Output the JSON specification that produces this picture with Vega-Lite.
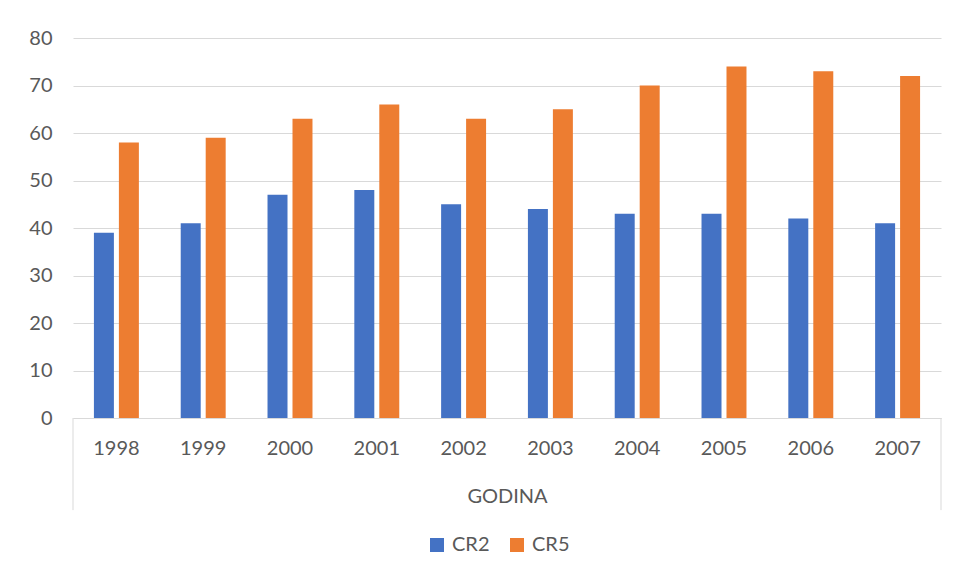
{
  "$schema": "https://vega.github.io/schema/vega-lite/v6.json",
  "autosize": {"type": "none"},
  "width": 868,
  "height": 380,
  "padding": {"left": 73, "top": 38, "right": 17, "bottom": 159},
  "background": "white",
  "config": {
    "font": "Lato",
    "view": {"stroke": null},
    "axis": {"labelColor": "#595959", "titleColor": "#595959", "labelFontSize": 20, "titleFontSize": 20, "titleFontWeight": "normal"}
  },
  "layer": [
    {
      "data": {
        "values": [
          {"year": "1998", "series": "CR2", "value": 39}, {"year": "1998", "series": "CR5", "value": 58},
          {"year": "1999", "series": "CR2", "value": 41}, {"year": "1999", "series": "CR5", "value": 59},
          {"year": "2000", "series": "CR2", "value": 47}, {"year": "2000", "series": "CR5", "value": 63},
          {"year": "2001", "series": "CR2", "value": 48}, {"year": "2001", "series": "CR5", "value": 66},
          {"year": "2002", "series": "CR2", "value": 45}, {"year": "2002", "series": "CR5", "value": 63},
          {"year": "2003", "series": "CR2", "value": 44}, {"year": "2003", "series": "CR5", "value": 65},
          {"year": "2004", "series": "CR2", "value": 43}, {"year": "2004", "series": "CR5", "value": 70},
          {"year": "2005", "series": "CR2", "value": 43}, {"year": "2005", "series": "CR5", "value": 74},
          {"year": "2006", "series": "CR2", "value": 42}, {"year": "2006", "series": "CR5", "value": 73},
          {"year": "2007", "series": "CR2", "value": 41}, {"year": "2007", "series": "CR5", "value": 72}
        ]
      },
      "mark": {"type": "bar"},
      "encoding": {
        "x": {
          "field": "year", "type": "nominal",
          "scale": {"paddingInner": 0.482, "paddingOuter": 0.241},
          "axis": {"title": "GODINA", "labelAngle": 0, "ticks": false, "domainColor": "#d9d9d9", "domainWidth": 1, "labelPadding": 20, "titlePadding": 28, "grid": false}
        },
        "xOffset": {"field": "series", "type": "nominal", "scale": {"paddingInner": 0.2}},
        "y": {
          "field": "value", "type": "quantitative",
          "scale": {"domain": [0, 80]},
          "axis": {"title": null, "values": [0, 10, 20, 30, 40, 50, 60, 70, 80], "domain": false, "ticks": false, "labelPadding": 21, "gridColor": "#d9d9d9", "gridWidth": 1}
        },
        "color": {
          "field": "series", "type": "nominal",
          "scale": {"range": ["#4472C4", "#ED7D31"]},
          "legend": {"title": null, "orient": "none", "legendX": 354, "legendY": 497, "direction": "horizontal", "symbolType": "square", "symbolSize": 196, "symbolStrokeWidth": 0, "labelFontSize": 20, "labelColor": "#595959", "columnPadding": 17, "labelOffset": 5}
        }
      }
    },
    {
      "data": {"values": [{"edge": 0}, {"edge": 1}]},
      "mark": {"type": "rule", "color": "#d9d9d9", "strokeWidth": 1, "clip": false},
      "encoding": {
        "x": {"field": "edge", "type": "quantitative", "scale": {"domain": [0, 1], "nice": false, "zero": false}, "axis": null},
        "y": {"datum": 0},
        "y2": {"datum": -19.4}
      }
    }
  ],
  "resolve": {"scale": {"x": "independent"}}
}
